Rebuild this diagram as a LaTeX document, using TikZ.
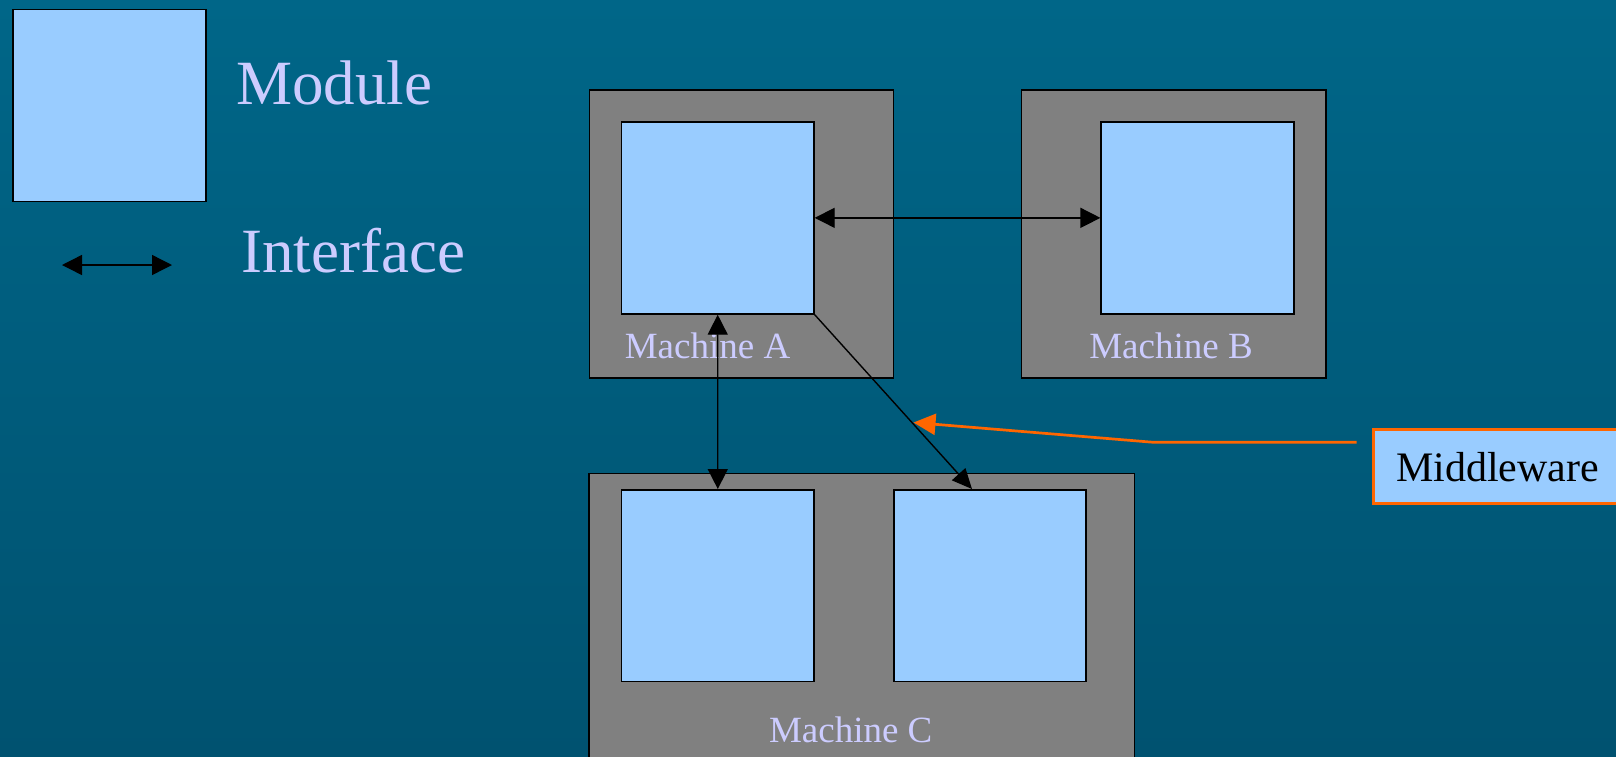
\documentclass[tikz,border=0pt]{standalone}
\usepackage{fontspec}
\setmainfont{Liberation Serif}
\usetikzlibrary{arrows.meta}

\definecolor{bgtop}{RGB}{0,102,136}
\definecolor{bgbottom}{RGB}{0,82,112}
\definecolor{modfill}{RGB}{153,204,255}
\definecolor{machfill}{RGB}{128,128,128}
\definecolor{labeltext}{RGB}{204,204,255}
\definecolor{mworange}{RGB}{255,102,0}

\tikzset{
  box/.style={draw=black, line width=1.7pt, inner sep=0pt, anchor=north west},
  modulebox/.style={box, fill=modfill},
  machinebox/.style={box, fill=machfill},
  machlabel/.style={text=labeltext, font=\fontsize{37}{40}\selectfont, anchor=base, inner sep=0pt},
  legendlabel/.style={text=labeltext, font=\fontsize{63}{70}\selectfont, anchor=base west, inner sep=0pt},
  iface/.style={draw=black, line width=1.4pt, {Triangle[length=20pt,width=20pt]}-{Triangle[length=20pt,width=20pt]}},
  ifaceone/.style={draw=black, line width=1.4pt, -{Triangle[length=20pt,width=18pt]}},
  pointer/.style={draw=mworange, line width=2.7pt, -{Triangle[length=22pt,width=21pt]}},
  mwbox/.style={draw=mworange, line width=2.7pt, fill=modfill, inner sep=0pt,
    minimum width=248, minimum height=74, anchor=north west,
    font=\fontsize{42}{46}\selectfont, text=black}
}

\begin{document}
\begin{tikzpicture}[x=1pt, y=-1pt]
  \useasboundingbox (0,0) rectangle (1616,756);
  \clip (0,0) rectangle (1616,756);
  \shade[top color=bgtop, bottom color=bgbottom] (0,0) rectangle (1616,756);

  % legend
  \node[modulebox, minimum width=193, minimum height=192] (legmod) at (12.3,8.7) {};
  \node[legendlabel] (legmodtxt) at (236,104) {Module};
  \coordinate (legL) at (62,265);
  \coordinate (legR) at (172,265);
  \draw[iface] (legL) -- (legR);
  \node[legendlabel] (legiftxt) at (241,272) {Interface};

  % machines
  \node[machinebox, minimum width=304, minimum height=288] (machA) at (588.6,89) {};
  \node[machinebox, minimum width=304.5, minimum height=288] (machB) at (1020.5,89) {};
  \node[machinebox, minimum width=545.6, minimum height=320] (machC) at (588,472.7) {};

  % modules
  \node[modulebox, minimum width=192.3, minimum height=192] (modA) at (620.7,121) {};
  \node[modulebox, minimum width=192.6, minimum height=192] (modB) at (1100.4,121) {};
  \node[modulebox, minimum width=192.5, minimum height=191.7] (modC1) at (620.7,489) {};
  \node[modulebox, minimum width=192.1, minimum height=191.7] (modC2) at (892.9,489) {};

  % machine labels
  \node[machlabel] (labA) at (707.5,358) {Machine A};
  \node[machlabel] (labB) at (1171,358) {Machine B};
  \node[machlabel] (labC) at (850.7,742.7) {Machine C};

  % interfaces
  \draw[iface] (modA.east) -- (modB.west);
  \draw[iface] (modA.south) -- (modC1.north);
  \coordinate (c2in) at (972,489);
  \draw[ifaceone] (modA.south east) -- (c2in);

  % middleware callout
  \node[mwbox] (mw) at (1372.3,428.3) {Middleware};
  \coordinate (mwstart) at (1356.7,442.3);
  \coordinate (mwbend) at (1153.5,442.3);
  \coordinate (mwtip) at (913.5,422.5);
  \draw[pointer] (mwstart) -- (mwbend) -- (mwtip);
\end{tikzpicture}
\end{document}
